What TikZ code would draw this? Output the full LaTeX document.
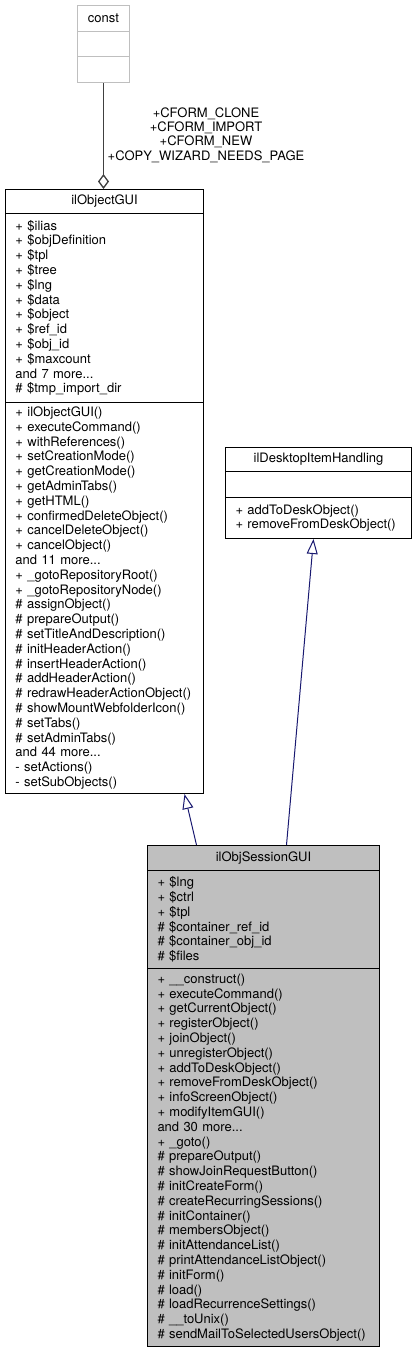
\documentclass[tikz,border=0pt]{standalone}
\usepackage{fontspec}
\setmainfont{TeX Gyre Heros}
\usetikzlibrary{arrows.meta}
\definecolor{edgeblue}{HTML}{191970}
\definecolor{usegrey}{HTML}{404040}
\definecolor{boxgrey}{HTML}{BFBFBF}
\newcommand{\umlfont}{\fontsize{13}{14.8}\selectfont}
\tikzset{umlpart/.style={draw, anchor=north west, inner xsep=10pt, inner ysep=0pt, align=left, font=\umlfont, line width=1pt}}
\tikzset{cname/.style={umlpart, align=center}}
\tikzset{inherit/.style={draw=edgeblue, line width=1pt, -{Triangle[open, length=15pt, width=11pt]}}}
\tikzset{usage/.style={draw=usegrey, line width=1.3pt, -{Diamond[open, length=15pt, width=11pt]}}}

\begin{document}
\begin{tikzpicture}[x=1pt,y=-1pt]
  \useasboundingbox (0,0) rectangle (416,1352);
  % const
  \node[cname, draw=boxgrey, text width=32pt, minimum height=26pt] (constName) at (77,5) {const};
  \node[umlpart, draw=boxgrey, text width=32pt, minimum height=25pt] (constAttr) at (77,31) {};
  \node[umlpart, draw=boxgrey, text width=32pt, minimum height=26pt] (constOps) at (77,56) {};
  % ilObjectGUI
  \node[cname, text width=178pt, minimum height=24pt] (objName) at (5,189) {ilObjectGUI};
  \node[umlpart, text width=178pt, minimum height=189pt] (objAttr) at (5,213) {
    + \$ilias\\ + \$objDefinition\\ + \$tpl\\ + \$tree\\ + \$lng\\ + \$data\\
    + \$object\\ + \$ref\_id\\ + \$obj\_id\\ + \$maxcount\\ and 7 more...\\
    \# \$tmp\_import\_dir};
  \node[umlpart, text width=178pt, minimum height=391pt] (objOps) at (5,402) {
    + ilObjectGUI()\\ + executeCommand()\\ + withReferences()\\ + setCreationMode()\\
    + getCreationMode()\\ + getAdminTabs()\\ + getHTML()\\ + confirmedDeleteObject()\\
    + cancelDeleteObject()\\ + cancelObject()\\ and 11 more...\\
    + \_gotoRepositoryRoot()\\ + \_gotoRepositoryNode()\\ \# assignObject()\\
    \# prepareOutput()\\ \# setTitleAndDescription()\\ \# initHeaderAction()\\
    \# insertHeaderAction()\\ \# addHeaderAction()\\ \# redrawHeaderActionObject()\\
    \# showMountWebfolderIcon()\\ \# setTabs()\\ \# setAdminTabs()\\ and 44 more...\\
    - setActions()\\ - setSubObjects()};
  % ilDesktopItemHandling
  \node[cname, text width=166pt, minimum height=24pt] (deskName) at (225,447) {ilDesktopItemHandling};
  \node[umlpart, text width=166pt, minimum height=26pt] (deskAttr) at (225,471) {};
  \node[umlpart, text width=166pt, minimum height=41pt] (deskOps) at (225,497) {
    + addToDeskObject()\\ + removeFromDeskObject()};
  % ilObjSessionGUI
  \node[cname, fill=boxgrey, text width=212pt, minimum height=25pt] (sessName) at (147,845) {ilObjSessionGUI};
  \node[umlpart, fill=boxgrey, text width=212pt, minimum height=98pt] (sessAttr) at (147,870) {
    + \$lng\\ + \$ctrl\\ + \$tpl\\ \# \$container\_ref\_id\\ \# \$container\_obj\_id\\ \# \$files};
  \node[umlpart, fill=boxgrey, text width=212pt, minimum height=378pt] (sessOps) at (147,968) {
    + \_\_construct()\\ + executeCommand()\\ + getCurrentObject()\\ + registerObject()\\
    + joinObject()\\ + unregisterObject()\\ + addToDeskObject()\\ + removeFromDeskObject()\\
    + infoScreenObject()\\ + modifyItemGUI()\\ and 30 more...\\ + \_goto()\\
    \# prepareOutput()\\ \# showJoinRequestButton()\\ \# initCreateForm()\\
    \# createRecurringSessions()\\ \# initContainer()\\ \# membersObject()\\
    \# initAttendanceList()\\ \# printAttendanceListObject()\\ \# initForm()\\
    \# load()\\ \# loadRecurrenceSettings()\\ \# \_\_toUnix()\\
    \# sendMailToSelectedUsersObject()};
  % connectors
  \draw[usage] (constOps.south) -- (constOps.south |- objName.north);
  \node[align=center, font=\fontsize{13}{14.4}\selectfont] (useLabel) at (206,135)
    {+CFORM\_CLONE\\+CFORM\_IMPORT\\+CFORM\_NEW\\+COPY\_WIZARD\_NEEDS\_PAGE};
  \draw[inherit] ([xshift=-67pt]sessName.north) -- ([xshift=80pt]objOps.south);
  \draw[inherit] ([xshift=23pt]sessName.north) -- ([xshift=-5pt]deskOps.south);
\end{tikzpicture}
\end{document}
